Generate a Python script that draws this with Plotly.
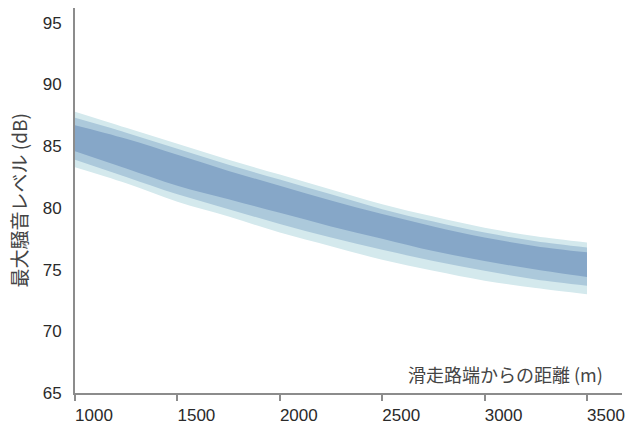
import plotly.graph_objects as go

# distance from runway end (m)
distance_m = [1000, 1250, 1500, 1750, 2000, 2250, 2500, 2750, 3000, 3250, 3500]
# outer envelope of the scatter cloud (dB)
outer_upper = [87.8, 86.5, 85.2, 83.9, 82.7, 81.5, 80.3, 79.3, 78.4, 77.7, 77.2]
outer_lower = [83.3, 82.0, 80.5, 79.3, 78.0, 76.9, 75.8, 74.9, 74.1, 73.5, 73.0]
# intermediate density of the cloud (dB)
mid_upper = [87.3, 86.1, 84.8, 83.5, 82.3, 81.1, 79.9, 78.9, 78.0, 77.3, 76.8]
mid_lower = [83.9, 82.5, 81.1, 79.9, 78.7, 77.6, 76.6, 75.7, 74.9, 74.2, 73.7]
# dense core of the cloud (dB)
core_upper = [86.7, 85.6, 84.3, 83.0, 81.8, 80.6, 79.5, 78.5, 77.6, 76.9, 76.4]
core_lower = [84.6, 83.2, 81.8, 80.7, 79.6, 78.5, 77.5, 76.5, 75.7, 75.0, 74.4]

x_ticks = [1000, 1500, 2000, 2500, 3000, 3500]
y_ticks = [65, 70, 75, 80, 85, 90, 95]

fig = go.Figure()

def band(upper, lower, color):
    fig.add_trace(go.Scatter(x=distance_m, y=upper, mode="lines",
                             line=dict(width=0, shape="spline"),
                             hoverinfo="skip", showlegend=False))
    fig.add_trace(go.Scatter(x=distance_m, y=lower, mode="lines",
                             line=dict(width=0, shape="spline"),
                             fill="tonexty", fillcolor=color,
                             hoverinfo="skip", showlegend=False))

band(outer_upper, outer_lower, "rgb(212,233,237)")
band(mid_upper, mid_lower, "rgb(172,201,219)")
band(core_upper, core_lower, "rgb(134,167,200)")

fig.add_annotation(x=3590, y=66.5, xref="x", yref="y", text="滑走路端からの距離 (m)",
                   showarrow=False, xanchor="right", yanchor="middle",
                   font=dict(family="Noto Sans CJK JP", size=18, color="#444444"))
fig.add_annotation(x=0, y=0.5, xref="paper", yref="paper", xshift=-57,
                   text="最大騒音レベル (dB)", textangle=-90, showarrow=False,
                   xanchor="center", yanchor="middle",
                   font=dict(family="Noto Sans CJK JP", size=19, color="#444444"))

fig.update_layout(
    width=629, height=425,
    margin=dict(l=75, r=7, t=8, b=32),
    paper_bgcolor="white", plot_bgcolor="white",
    font=dict(family="Liberation Sans, Arial, sans-serif", color="#2a2a2a"),
)
fig.update_xaxes(range=[1000, 3671], tickvals=x_ticks, showgrid=False, zeroline=False,
                 showline=True, linecolor="#8c8c8c", linewidth=2, automargin=False,
                 ticks="outside", ticklen=6, tickwidth=2, tickcolor="#8c8c8c",
                 ticklabelshift=19, ticklabeloverflow="allow", tickfont=dict(size=17))
fig.update_yaxes(range=[65, 96.2], tickvals=y_ticks, showgrid=False, zeroline=False,
                 showline=True, linecolor="#8c8c8c", linewidth=2, automargin=False,
                 ticks="", ticklabelstandoff=8, tickfont=dict(size=17))

fig.write_html("out.html", config={"displayModeBar": False},
               post_script="document.body.style.margin='0';document.body.style.overflow='hidden';")
